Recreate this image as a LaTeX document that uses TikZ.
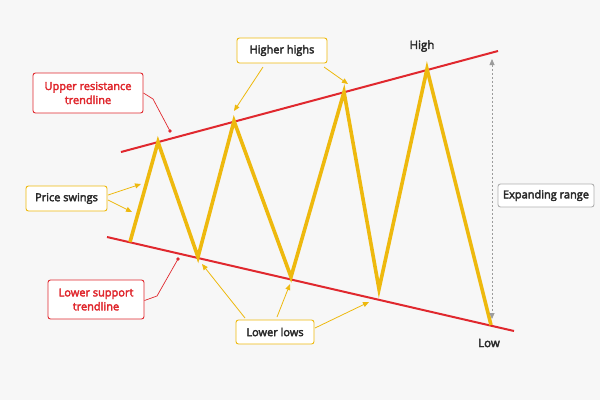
\documentclass[tikz,border=0pt]{standalone}
\usepackage{fontspec}
\setmainfont{Open Sans}
\newfontfamily\lblfont{Open Sans}[FakeBold=3.2]
\usetikzlibrary{arrows.meta}
\definecolor{bg}{HTML}{F7F7F7}
\definecolor{tred}{HTML}{E0282E}
\definecolor{tyel}{HTML}{EEB90E}
\definecolor{tgray}{HTML}{9C9C9C}
\definecolor{ttext}{HTML}{2A2A2A}
\begin{document}
\begin{tikzpicture}[x=1pt,y=-1pt,
  lbl/.style={draw, rounded corners=2.5pt, fill=white, line width=0.9pt,
    font=\lblfont\fontsize{11}{14}\selectfont, text=ttext, align=center,
    inner sep=0pt},
  redbox/.style={lbl, draw=tred, text=tred},
  yelbox/.style={lbl, draw=tyel},
  graybox/.style={lbl, draw=tgray!80},
  yarrow/.style={draw=tyel, line width=0.8pt, -{Triangle[length=6pt,width=5pt]}},
  rline/.style={draw=tred, line width=2pt},
  zig/.style={draw=tyel, line width=3.6pt, line join=miter, miter limit=20},
  plain/.style={font=\lblfont\fontsize{11.5}{14}\selectfont, text=ttext, inner sep=0pt}
]
\fill[bg] (0,0) rectangle (600,400);
\useasboundingbox (0,0) rectangle (600,400);

% trendlines
\coordinate (u1) at (121,152);
\coordinate (u2) at (498,51);
\coordinate (l1) at (107,237);
\coordinate (l2) at (514,331);
\draw[rline] (u1) -- (u2);
\draw[rline] (l1) -- (l2);

% zigzag
\coordinate (z0) at (130,242);
\coordinate (z1) at (158,142);
\coordinate (z2) at (198,257);
\coordinate (z3) at (234,121);
\coordinate (z4) at (291,277);
\coordinate (z5) at (344,92);
\coordinate (z6) at (379,289);
\coordinate (z7) at (427,69);
\coordinate (z8) at (491,325);
\draw[zig] (z0) -- (z1) -- (z2) -- (z3) -- (z4) -- (z5) -- (z6) -- (z7) -- (z8);

% labels
\node[redbox, minimum width=110pt, minimum height=40pt] (ur) at (88,93)
  {Upper resistance\\trendline};
\node[redbox, minimum width=96pt, minimum height=39pt] (ls) at (96,299.5)
  {Lower support\\trendline};
\node[yelbox, minimum width=90pt, minimum height=25pt] (hh) at (282,50.5) {Higher highs};
\node[yelbox, minimum width=81pt, minimum height=25pt] (ps) at (66.5,198.5) {Price swings};
\node[yelbox, minimum width=78pt, minimum height=24pt] (ll) at (275,332) {Lower lows};
\node[graybox, minimum width=96pt, minimum height=23pt] (er) at (546,195.5) {Expanding range};
\node[plain] (hi) at (422,46) {High};
\node[plain] (lo) at (489,343) {Low};

% red leaders
\coordinate (urk) at (153,99);
\coordinate (urd) at (170,131);
\draw[tred, line width=0.7pt] (ur.east) -- (urk) -- (urd);
\fill[tred] (urd) circle (1.8);
\coordinate (lsk) at (157,296);
\coordinate (lsd) at (178,259);
\draw[tred, line width=0.7pt] ([yshift=-1pt]ls.east) -- (lsk) -- (lsd);
\fill[tred] (lsd) circle (1.8);

% yellow arrows
\coordinate (hha) at (263,67); \coordinate (hhb) at (234,111);
\coordinate (hhc) at (324,67); \coordinate (hhd) at (348,84);
\draw[yarrow] (hha) -- (hhb);
\draw[yarrow] (hhc) -- (hhd);
\coordinate (psa) at (108,195); \coordinate (psb) at (141,184);
\coordinate (psc) at (108,200); \coordinate (psd) at (132,212);
\draw[yarrow] (psa) -- (psb);
\draw[yarrow] (psc) -- (psd);
\coordinate (lla) at (245,318); \coordinate (llb) at (202,264);
\coordinate (llc) at (277,317); \coordinate (lld) at (290,284);
\coordinate (lle) at (315,328); \coordinate (llf) at (369,302);
\draw[yarrow] (lla) -- (llb);
\draw[yarrow] (llc) -- (lld);
\draw[yarrow] (lle) -- (llf);

% expanding range arrow
\coordinate (ert) at (492,59);
\coordinate (erb) at (492,319);
\draw[tgray, line width=0.8pt, dash pattern=on 2pt off 2pt,
  {Triangle[length=6pt,width=5pt]}-{Triangle[length=6pt,width=5pt]}] (ert) -- (erb);
\end{tikzpicture}
\end{document}
